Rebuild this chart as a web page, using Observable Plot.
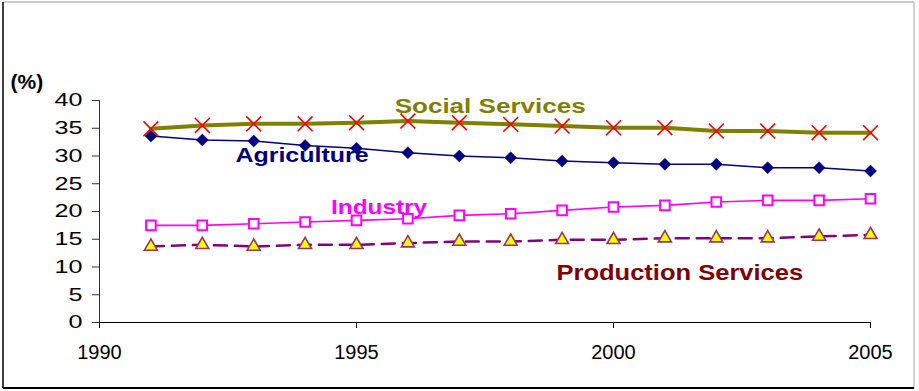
<!DOCTYPE html>
<html>
<head>
<meta charset="utf-8">
<script src="https://cdn.jsdelivr.net/npm/d3@7"></script>
<script src="https://cdn.jsdelivr.net/npm/@observablehq/plot@0.6"></script>
<style>
  body { margin: 0; background: #fff; }
  #chart { width: 919px; height: 391px; }
</style>
</head>
<body>
<div id="chart"></div>
<script>
// Employment share by sector (%), 1991–2005
const years = [1991, 1992, 1993, 1994, 1995, 1996, 1997, 1998, 1999, 2000, 2001, 2002, 2003, 2004, 2005];
const socialServices     = [34.9, 35.5, 35.8, 35.8, 36.0, 36.3, 36.0, 35.7, 35.4, 35.1, 35.1, 34.5, 34.5, 34.2, 34.2];
const agriculture        = [33.6, 32.9, 32.7, 31.9, 31.4, 30.6, 30.0, 29.7, 29.1, 28.8, 28.5, 28.5, 27.9, 27.9, 27.3];
const industry           = [17.5, 17.5, 17.8, 18.1, 18.4, 18.7, 19.3, 19.6, 20.2, 20.8, 21.1, 21.7, 22.0, 22.0, 22.3];
const productionServices = [13.7, 14.0, 13.7, 14.0, 14.0, 14.3, 14.6, 14.6, 14.9, 14.9, 15.2, 15.2, 15.2, 15.5, 15.8];

const yTicks = [0, 5, 10, 15, 20, 25, 30, 35, 40];
const xTicks = [1990, 1995, 2000, 2005];

const rows = (values) => years.map((year, i) => ({year, value: values[i]}));
const social = rows(socialServices);
const agri = rows(agriculture);
const ind = rows(industry);
const prod = rows(productionServices);

const labelFont = {fontFamily: "'Liberation Sans', Arial, sans-serif", fontWeight: "bold", textAnchor: "middle", lineAnchor: "bottom"};

const chart = Plot.plot({
  width: 919,
  height: 391,
  marginLeft: 99,
  marginRight: 49,
  marginTop: 100,
  marginBottom: 69,
  style: {fontFamily: "'Liberation Sans', Arial, sans-serif", fontSize: "20px", color: "#000", background: "#fff", overflow: "visible"},
  x: {domain: [1990, 2005]},
  y: {domain: [0, 40]},
  marks: [
    Plot.axisY({ticks: yTicks, tickSize: 7, tickPadding: 10, fontSize: 18, label: null, stroke: "#333"}),
    Plot.axisX({ticks: xTicks, tickSize: 6, tickPadding: 16, tickFormat: d => String(d), fontSize: 20, label: null}),
    Plot.ruleX([1990], {y1: 0, y2: 40, stroke: "#333", strokeWidth: 1}),
    Plot.ruleY([0], {x1: 1990, x2: 2005, stroke: "#000", strokeWidth: 1}),

    // Production services: dashed purple with yellow triangles
    Plot.line(prod, {x: "year", y: "value", stroke: "#800080", strokeWidth: 2.5, strokeDasharray: "13,8"}),
    Plot.dot(prod, {x: "year", y: "value", symbol: "triangle", r: 4.8, fill: "#ffff00", stroke: "#993366", strokeWidth: 1.6}),

    // Industry: magenta with open squares
    Plot.line(ind, {x: "year", y: "value", stroke: "#ff00ff", strokeWidth: 1.6}),
    Plot.dot(ind, {x: "year", y: "value", symbol: "square", r: 5.4, fill: "#fff", stroke: "#ff00ff", strokeWidth: 2}),

    // Agriculture: navy with filled diamonds
    Plot.line(agri, {x: "year", y: "value", stroke: "#000080", strokeWidth: 1.5}),
    Plot.dot(agri, {x: "year", y: "value", symbol: "diamond2", r: 5.4, fill: "#000080", stroke: "#000080", strokeWidth: 0.5}),

    // Social services: thick olive with red crosses
    Plot.line(social, {x: "year", y: "value", stroke: "#808000", strokeWidth: 4}),
    Plot.dot(social, {x: "year", y: "value", symbol: "times", r: 6.8, stroke: "#ff0000", strokeWidth: 1.6}),

    // Series labels
    Plot.text(["Social Services"], {x: 1997.6, y: 37.66, fill: "#808000", fontSize: 21, ...labelFont}),
    Plot.text(["Agriculture"], {x: 1993.94, y: 28.88, fill: "#000080", fontSize: 21, ...labelFont}),
    Plot.text(["Industry"], {x: 1995.44, y: 19.59, fill: "#ff00ff", fontSize: 21, ...labelFont}),
    Plot.text(["Production Services"], {x: 2001.29, y: 7.57, fill: "#800000", fontSize: 22, ...labelFont}),

    // Unit label above the y axis
    Plot.text(["(%)"], {frameAnchor: "top-left", dx: -89, dy: -12, textAnchor: "start", lineAnchor: "bottom",
      fontFamily: "'Liberation Sans', Arial, sans-serif", fontWeight: "bold", fontSize: 21, fill: "#000"})
  ]
});

document.getElementById("chart").appendChild(chart);

// Stretch text horizontally about a fixed anchor ("center" or "end")
function stretch(node, k, anchor) {
  const bb = node.getBBox();
  const ax = anchor === "end" ? bb.x + bb.width : bb.x + bb.width / 2;
  const t = node.getAttribute("transform") || "";
  node.setAttribute("transform", `${t} translate(${ax},0) scale(${k},1) translate(${-ax},0)`);
}

// Wide series labels
const widen = {"Social Services": 1.24, "Agriculture": 1.19, "Industry": 1.16, "Production Services": 1.16};
d3.select(chart).selectAll("text").each(function() {
  const k = widen[this.textContent];
  if (k != null) stretch(this, k, "center");
});

// Wide y tick labels, right edge fixed
d3.select(chart).selectAll('g[aria-label="y-axis tick label"] text').each(function() {
  stretch(this, 1.4, "end");
});

// Outer frame
const svg = d3.select(chart);
svg.append("line").attr("x1", 3).attr("y1", 2).attr("x2", 914).attr("y2", 2).attr("stroke", "#999").attr("stroke-width", 1);
svg.append("line").attr("x1", 914).attr("y1", 2).attr("x2", 914).attr("y2", 388).attr("stroke", "#aaa").attr("stroke-width", 1);
svg.append("line").attr("x1", 3).attr("y1", 2).attr("x2", 3).attr("y2", 388).attr("stroke", "#000").attr("stroke-width", 1.5);
svg.append("line").attr("x1", 3).attr("y1", 388).attr("x2", 914).attr("y2", 388).attr("stroke", "#000").attr("stroke-width", 2);
</script>
</body>
</html>
